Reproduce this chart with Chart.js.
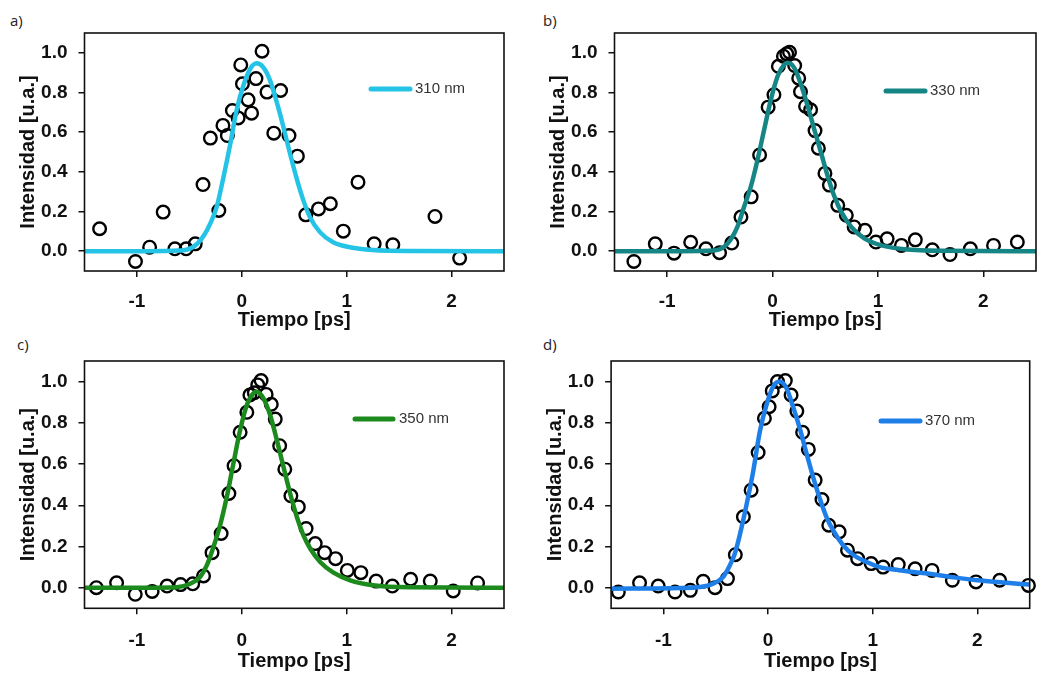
<!DOCTYPE html>
<html><head><meta charset="utf-8">
<script src="https://cdn.jsdelivr.net/npm/chart.js@4.4.1/dist/chart.umd.min.js"></script>
<style>
body{margin:0;background:#fff;width:1060px;height:673px;overflow:hidden;position:relative}
canvas{position:absolute}
.lbl{position:absolute;font-family:"Open Sans","Liberation Sans",sans-serif;font-size:15px;line-height:15px;color:#222}
</style></head><body>
<div class="lbl" style="left:10px;top:13px">a)</div>
<div class="lbl" style="left:543px;top:13px">b)</div>
<div class="lbl" style="left:17px;top:337px">c)</div>
<div class="lbl" style="left:543px;top:337px">d)</div>
<canvas id="ca" width="530" height="335" style="left:0;top:0"></canvas>
<canvas id="cb" width="530" height="335" style="left:530px;top:0"></canvas>
<canvas id="cc" width="530" height="338" style="left:0;top:335px"></canvas>
<canvas id="cd" width="530" height="338" style="left:530px;top:335px"></canvas>
<script>
// ---- tick labels / axis ranges ----
const xTicks = [-1, 0, 1, 2];
const yTicks = [0, 0.2, 0.4, 0.6, 0.8, 1.0];
const xTitle = 'Tiempo [ps]';
const yTitle = 'Intensidad [u.a.]';

// ---- a) 310 nm ----
const tA = [-1.356,-1.014,-0.879,-0.750,-0.638,-0.531,-0.444,-0.370,-0.300,-0.219,-0.180,-0.138,-0.090,-0.035,-0.010,0.006,0.060,0.093,0.135,0.193,0.240,0.305,0.370,0.450,0.530,0.610,0.731,0.844,0.968,1.108,1.262,1.440,1.842,2.077];
const iA = [0.113,-0.052,0.020,0.197,0.012,0.012,0.037,0.336,0.570,0.205,0.634,0.583,0.709,0.672,0.939,0.844,0.763,0.696,0.870,1.008,0.802,0.595,0.810,0.583,0.479,0.183,0.213,0.239,0.101,0.348,0.037,0.032,0.175,-0.035];
const fitTA = [-1.5,-0.9,-0.6,-0.5,-0.43,-0.36,-0.3,-0.24,-0.175,-0.11,-0.05,0.015,0.08,0.14,0.205,0.27,0.333,0.397,0.46,0.524,0.587,0.65,0.745,0.87,1.03,1.25,1.6,2.5];
const fitA = [0,0,0.003,0.012,0.035,0.08,0.14,0.222,0.373,0.541,0.709,0.835,0.919,0.947,0.927,0.86,0.751,0.625,0.491,0.365,0.256,0.171,0.096,0.045,0.02,0.006,0.001,0];

// ---- b) 330 nm ----
const tB = [-1.316,-1.113,-0.935,-0.777,-0.632,-0.503,-0.387,-0.300,-0.203,-0.123,-0.042,0.013,0.055,0.103,0.135,0.161,0.210,0.248,0.265,0.313,0.361,0.403,0.435,0.497,0.539,0.619,0.700,0.774,0.877,0.981,1.087,1.223,1.355,1.516,1.684,1.877,2.097,2.323];
const iB = [-0.052,0.037,-0.010,0.045,0.012,-0.008,0.041,0.172,0.274,0.485,0.726,0.789,0.932,0.983,0.995,1.003,0.936,0.872,0.804,0.731,0.713,0.608,0.519,0.392,0.333,0.231,0.181,0.122,0.105,0.046,0.062,0.029,0.057,0.007,-0.017,0.012,0.029,0.046];
const fitTB = [-1.5,-0.875,-0.557,-0.429,-0.334,-0.271,-0.207,-0.143,-0.08,-0.016,0.048,0.111,0.143,0.206,0.27,0.334,0.397,0.461,0.525,0.588,0.652,0.747,0.874,1.033,1.25,1.6,2.5];
const fitB = [0,0,0.003,0.037,0.122,0.223,0.324,0.46,0.612,0.764,0.882,0.941,0.95,0.924,0.84,0.73,0.612,0.494,0.375,0.274,0.198,0.122,0.063,0.029,0.01,0.002,0];

// ---- c) 350 nm ----
const tC = [-1.387,-1.194,-1.016,-0.855,-0.713,-0.584,-0.468,-0.365,-0.284,-0.197,-0.123,-0.074,-0.016,0.048,0.077,0.119,0.152,0.184,0.232,0.281,0.319,0.361,0.410,0.468,0.539,0.613,0.700,0.790,0.894,1.006,1.135,1.281,1.435,1.610,1.797,2.016,2.248];
const iC = [0.000,0.024,-0.032,-0.018,0.008,0.015,0.019,0.057,0.170,0.263,0.457,0.592,0.754,0.851,0.935,0.946,0.984,1.005,0.938,0.890,0.818,0.689,0.575,0.446,0.392,0.287,0.214,0.170,0.141,0.084,0.073,0.032,0.008,0.041,0.032,-0.016,0.023];
const fitTC = [-1.5,-0.875,-0.62,-0.493,-0.398,-0.334,-0.271,-0.207,-0.143,-0.08,-0.016,0.048,0.111,0.143,0.206,0.27,0.334,0.397,0.461,0.525,0.588,0.652,0.747,0.874,1.033,1.25,1.6,2.5];
const fitC = [0,0,0.002,0.019,0.052,0.108,0.197,0.303,0.441,0.603,0.765,0.887,0.944,0.951,0.919,0.838,0.716,0.587,0.457,0.343,0.254,0.19,0.125,0.073,0.036,0.012,0.002,0];

// ---- d) 370 nm ----
const tD = [-1.431,-1.228,-1.050,-0.889,-0.743,-0.620,-0.507,-0.388,-0.313,-0.236,-0.162,-0.095,-0.035,0.010,0.040,0.090,0.165,0.220,0.275,0.330,0.385,0.450,0.515,0.580,0.679,0.759,0.856,0.985,1.099,1.244,1.405,1.567,1.761,1.987,2.213,2.488];
const iD = [-0.021,0.024,0.008,-0.021,-0.013,0.031,0.000,0.044,0.160,0.344,0.473,0.656,0.822,0.878,0.955,1.000,1.005,0.935,0.857,0.754,0.671,0.522,0.428,0.303,0.271,0.182,0.141,0.117,0.100,0.112,0.092,0.084,0.036,0.028,0.036,0.011];
const fitTD = [-1.5,-0.844,-0.653,-0.526,-0.43,-0.366,-0.318,-0.271,-0.207,-0.143,-0.079,-0.015,0.048,0.112,0.176,0.239,0.303,0.367,0.43,0.494,0.558,0.621,0.717,0.813,0.941,1.068,1.25,1.5,1.75,2.0,2.25,2.5];
const fitD = [-0.005,-0.002,0.003,0.019,0.052,0.108,0.165,0.254,0.4,0.562,0.757,0.887,0.976,1.0,0.968,0.878,0.773,0.652,0.538,0.433,0.343,0.279,0.206,0.16,0.125,0.1,0.085,0.07,0.052,0.036,0.025,0.015];

const seriesLabels = ['310 nm', '330 nm', '350 nm', '370 nm'];
const seriesColors = ['#25c3e6', '#168585', '#1d8a1d', '#1f7fe8'];

const FONT = '"Liberation Sans", Arial, sans-serif';

const framePlugin = {
  id: 'frame',
  afterDatasetsDraw(chart) {
    const a = chart.chartArea, ctx = chart.ctx;
    ctx.save();
    ctx.strokeStyle = '#111';
    ctx.lineWidth = 1.6;
    ctx.strokeRect(a.left, a.top, a.right - a.left, a.bottom - a.top);
    ctx.restore();
  }
};
const inlineLegend = {
  id: 'inlineLegend',
  afterDraw(chart, args, o) {
    const ctx = chart.ctx;
    ctx.save();
    ctx.strokeStyle = o.color;
    ctx.lineWidth = 5;
    ctx.lineCap = 'round';
    ctx.beginPath();
    ctx.moveTo(o.x1, o.y); ctx.lineTo(o.x2, o.y);
    ctx.stroke();
    ctx.fillStyle = '#333';
    ctx.font = '15px ' + FONT;
    ctx.textBaseline = 'middle';
    ctx.textAlign = 'left';
    ctx.fillText(o.text, o.tx, o.y);
    ctx.restore();
  }
};

function makePanel(id, tx, iy, fx, fy, k, g) {
  const pts = tx.map((x, i) => ({x: x, y: iy[i]}));
  const fit = fx.map((x, i) => ({x: x, y: fy[i]}));
  new Chart(document.getElementById(id), {
    type: 'scatter',
    data: {
      datasets: [
        {type: 'line', label: seriesLabels[k], data: fit, borderColor: seriesColors[k], borderWidth: 4.5,
         pointRadius: 0, fill: false, cubicInterpolationMode: 'monotone', order: 0},
        {type: 'scatter', label: 'datos', data: pts, pointStyle: 'circle', pointRadius: 6.3,
         borderColor: '#000', borderWidth: 2.4, backgroundColor: 'rgba(0,0,0,0)', clip: 10, order: 1}
      ]
    },
    options: {
      responsive: false, animation: false, devicePixelRatio: 1,
      layout: {padding: {left: 0, top: g.padTop, right: g.padRight, bottom: 0}},
      plugins: {
        legend: {display: false}, tooltip: {enabled: false},
        inlineLegend: {x1: g.lx1, x2: g.lx2, y: g.ly, tx: g.ltx, text: seriesLabels[k], color: seriesColors[k]}
      },
      scales: {
        x: {
          type: 'linear', min: -1.5, max: 2.5,
          afterBuildTicks: s => { s.ticks = xTicks.map(v => ({value: v})); },
          afterFit: s => { s.height = g.xAxisH; },
          ticks: {font: {family: FONT, size: 19, weight: 'bold'}, color: '#111', padding: g.xTickPad,
                  maxRotation: 0, autoSkip: false, callback: v => String(v)},
          grid: {drawOnChartArea: false, drawTicks: true, tickLength: 6, color: '#111', lineWidth: 1.5},
          border: {display: false},
          title: {display: true, text: xTitle, color: '#111', font: {family: FONT, size: 20, weight: 'bold'},
                  padding: {top: 0, bottom: g.xTitlePad}}
        },
        y: {
          type: 'linear', min: -0.1, max: 1.1,
          afterBuildTicks: s => { s.ticks = yTicks.map(v => ({value: v})); },
          afterFit: s => { s.width = g.yAxisW; },
          ticks: {font: {family: FONT, size: 19, weight: 'bold'}, color: '#111', padding: 11,
                  autoSkip: false, callback: v => Number(v).toFixed(1)},
          grid: {drawOnChartArea: false, drawTicks: true, tickLength: 6, color: '#111', lineWidth: 1.5},
          border: {display: false},
          title: {display: true, text: yTitle, color: '#111', font: {family: FONT, size: 20, weight: 'bold'},
                  padding: {top: g.yTitlePad, bottom: 0}}
        }
      }
    },
    plugins: [framePlugin, inlineLegend]
  });
}

makePanel('ca', tA, iA, fitTA, fitA, 0,
  {padTop: 33, padRight: 26, yAxisW: 84.5, xAxisH: 64, xTickPad: 13.5, xTitlePad: 2.7, yTitlePad: 16.7,
   lx1: 371, lx2: 410, ly: 89, ltx: 415});
makePanel('cb', tB, iB, fitTB, fitB, 1,
  {padTop: 33, padRight: 24, yAxisW: 84.5, xAxisH: 64, xTickPad: 13.5, xTitlePad: 2.7, yTitlePad: 16.7,
   lx1: 356, lx2: 395, ly: 91, ltx: 400});
makePanel('cc', tC, iC, fitTC, fitC, 2,
  {padTop: 26, padRight: 26, yAxisW: 84.5, xAxisH: 64.7, xTickPad: 15.3, xTitlePad: 0, yTitlePad: 16.7,
   lx1: 355, lx2: 393, ly: 84, ltx: 399});
makePanel('cd', tD, iD, fitTD, fitD, 3,
  {padTop: 26, padRight: 30.3, yAxisW: 81.1, xAxisH: 64.7, xTickPad: 15.3, xTitlePad: 0, yTitlePad: 13.4,
   lx1: 351, lx2: 390, ly: 86, ltx: 395});
</script>
</body></html>
